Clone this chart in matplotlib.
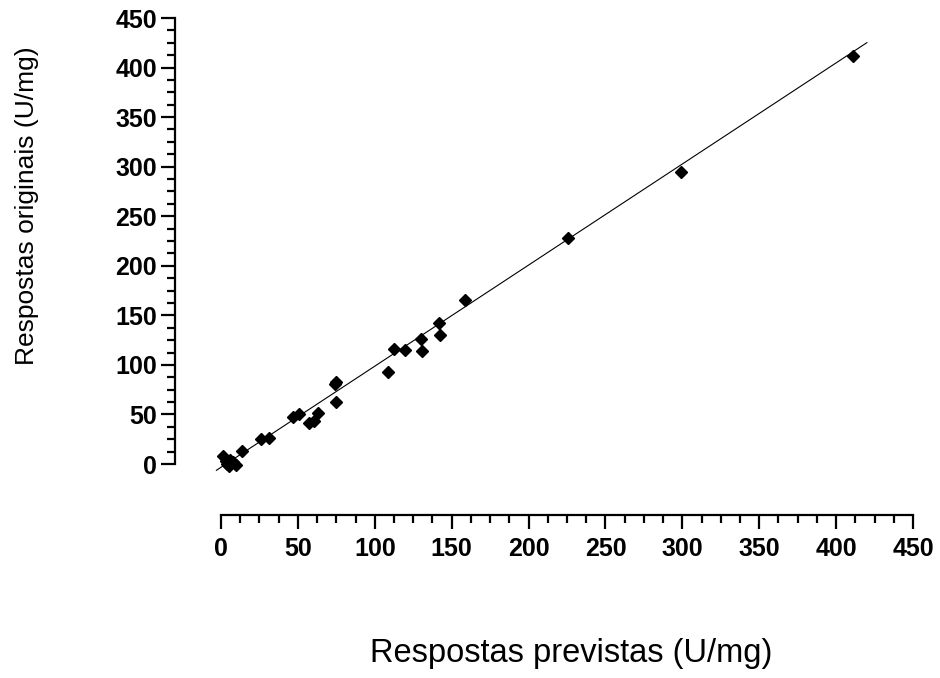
import matplotlib
matplotlib.use("Agg")
import matplotlib.pyplot as plt
import numpy as np
from matplotlib.ticker import FixedLocator

plt.rcParams['font.family'] = ['Liberation Sans', 'DejaVu Sans']

# Data: predicted (x) vs original (y) responses, U/mg
predicted = [411, 299.2, 225.5, 158.4, 141.8, 142.2, 130.3, 131.0, 119.9, 112.8,
             108.9, 75.1, 74.0, 75.1, 63.2, 50.8, 47.0, 57.3, 60.6, 31.4,
             25.8, 13.4, 1.5, 3.0, 4.0, 6.0, 8.0, 10.0, 5.0]
original = [411.4, 294.2, 228.0, 165.7, 142.1, 130.0, 126.0, 114.1, 115.2, 116.2,
            92.6, 82.5, 80.8, 62.3, 51.2, 50.5, 47.2, 41.1, 43.4, 26.0,
            25.3, 13.1, 8.5, 3.0, 0.0, 4.0, 2.0, -1.0, -2.0]

# Fitted line
fit_x = [-3, 420]
fit_intercept = -3.3
fit_slope = 1.02

xticks = [0, 50, 100, 150, 200, 250, 300, 350, 400, 450]
yticks = [0, 50, 100, 150, 200, 250, 300, 350, 400, 450]

W, H = 940, 678
fig = plt.figure(figsize=(W / 100, H / 100), dpi=100)
left_px, right_px, top_px, bottom_px = 175, 913, 18, 515
ax = fig.add_axes([left_px / W, 1 - bottom_px / H,
                   (right_px - left_px) / W, (bottom_px - top_px) / H])

x0_px = 221
xunit = (right_px - x0_px) / 450.0
y0_px = 464
yunit = (y0_px - top_px) / 450.0
ax.set_xlim(-(x0_px - left_px) / xunit, 450)
ax.set_ylim(-(bottom_px - y0_px) / yunit, 450)

fx = np.array(fit_x, dtype=float)
ax.plot(fx, fit_intercept + fit_slope * fx, color='black', lw=0.8, zorder=2)
ax.plot(predicted, original, linestyle='none', marker='D', markersize=6.5,
        color='black', zorder=3, clip_on=False)

for s in ['top', 'right']:
    ax.spines[s].set_visible(False)
ax.spines['left'].set_bounds(0, 450)
ax.spines['bottom'].set_bounds(0, 450)
for s in ['left', 'bottom']:
    ax.spines[s].set_linewidth(1.6)

ax.set_xticks(xticks)
ax.set_yticks(yticks)
minor = [v for v in np.arange(0, 450.01, 12.5) if v % 50 != 0]
ax.xaxis.set_minor_locator(FixedLocator(minor))
ax.yaxis.set_minor_locator(FixedLocator(minor))
ax.tick_params(which='major', direction='out', length=10, width=1.6,
               labelsize=18, pad=3)
ax.tick_params(which='minor', direction='out', length=6, width=1.6)
ax.tick_params(axis='x', which='major', pad=6)
for lab in ax.get_xticklabels() + ax.get_yticklabels():
    lab.set_fontweight('bold')

fig.text(571 / W, 1 - 662 / H, 'Respostas previstas (U/mg)', ha='center',
         va='baseline', fontsize=23.5)
fig.text(27 / W, 1 - 206 / H, 'Respostas originais (U/mg)', ha='center',
         va='center', rotation=90, fontsize=19)

fig.savefig('out.png', dpi=100)
